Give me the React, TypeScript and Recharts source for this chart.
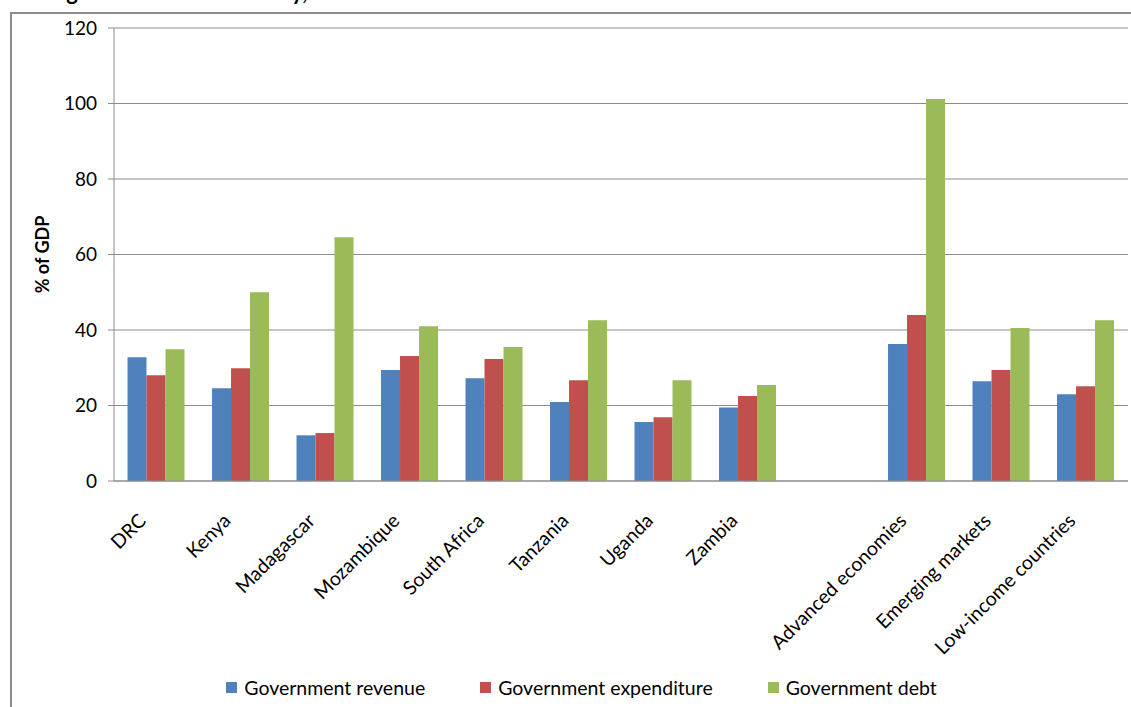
import React from 'react';
import { BarChart, Bar, XAxis, YAxis, CartesianGrid, Legend } from 'recharts';

const categories = ['DRC', 'Kenya', 'Madagascar', 'Mozambique', 'South Africa', 'Tanzania', 'Uganda', 'Zambia', '', 'Advanced economies', 'Emerging markets', 'Low-income countries'];
const revenue = [32.8, 24.6, 12.1, 29.4, 27.2, 20.9, 15.6, 19.5, null, 36.3, 26.4, 23.0];
const expenditure = [28.0, 29.9, 12.7, 33.1, 32.3, 26.7, 16.9, 22.5, null, 44.0, 29.4, 25.1];
const debt = [34.9, 50.0, 64.6, 41.0, 35.5, 42.6, 26.7, 25.4, null, 101.2, 40.5, 42.6];
const yTicks = [0, 20, 40, 60, 80, 100, 120];
const boundaryTicks = [0, 1, 2, 3, 4, 5, 6, 7, 8, 9, 10, 11, 12];
const seriesNames = ['Government revenue', 'Government expenditure', 'Government debt'];
const colors = ['#4F81BD', '#C0504D', '#9BBB59'];
const titleText = 'Budget data of each country, 2012';

const data = categories.map((c, i) => ({
  name: c,
  revenue: revenue[i],
  expenditure: expenditure[i],
  debt: debt[i],
}));

const FONT = 'Lato, "Open Sans", sans-serif';
const GRAY = '#8c8c8c';

const CatTick = (props: any) => {
  const { x, y, payload } = props;
  return (
    <g transform={`translate(${x - 9},${y + 41}) rotate(-45)`}>
      <text x={0} y={0} textAnchor="end" fontSize={19.5} fontFamily={FONT} fill="#000">
        {payload.value}
      </text>
    </g>
  );
};

const LegendContent = () => (
  <div style={{ display: 'flex', justifyContent: 'center', alignItems: 'center', height: 40, paddingLeft: 32, fontFamily: FONT, fontSize: 19.5, color: '#000' }}>
    {seriesNames.map((n, i) => (
      <div key={n} style={{ display: 'flex', alignItems: 'center', marginRight: i < 2 ? 55 : 0 }}>
        <span style={{ display: 'inline-block', width: 11, height: 11, background: colors[i], marginRight: 7 }} />
        <span>{n}</span>
      </div>
    ))}
  </div>
);

export default function App() {
  return (
    <div style={{ position: 'absolute', left: 0, top: 0, width: 1131, height: 707, overflow: 'hidden', background: '#fff' }}>
      <div style={{ position: 'absolute', left: 10, top: 12, width: 1300, height: 900, border: `2px solid ${GRAY}`, boxSizing: 'border-box' }} />
      <svg width={1131} height={40} style={{ position: 'absolute', left: 0, top: 0 }}>
        <text x={27} y={0} fontFamily={FONT} fontWeight="bold" fontSize={22} fill="#000">{titleText}</text>
      </svg>
      <div style={{ position: 'absolute', left: 0, top: 0 }}>
        <BarChart width={1131} height={707} data={data} margin={{ top: 28, right: 3, left: 0, bottom: 0 }} barCategoryGap="16%" barGap={0}>
          <CartesianGrid vertical={false} stroke={GRAY} strokeWidth={1} />
          <XAxis xAxisId="b" type="number" domain={[0, 12]} ticks={boundaryTicks} tick={false} tickLine={{ stroke: GRAY }} tickSize={6} axisLine={false} height={0} allowDataOverflow />
          <XAxis dataKey="name" interval={0} tick={<CatTick />} tickLine={false} tickSize={0} tickMargin={0} axisLine={{ stroke: GRAY }} height={186} />
          <YAxis domain={[0, 120]} ticks={yTicks} width={114} tickSize={6} tickMargin={11} tickLine={{ stroke: GRAY }} axisLine={{ stroke: GRAY }}
            tick={{ fontSize: 19, fontFamily: FONT, fill: '#000' }}
            label={{
              content: (p: any) => {
                const vb = p.viewBox;
                const cx = vb.x + 42;
                const cy = vb.y + vb.height / 2;
                return (
                  <text x={cx} y={cy} transform={`rotate(-90, ${cx}, ${cy})`} textAnchor="middle" dominantBaseline="central" fontFamily={FONT} fontWeight="bold" fontSize={18} fill="#000">% of GDP</text>
                );
              },
            }}
          />
          <Legend verticalAlign="bottom" height={40} content={<LegendContent />} wrapperStyle={{ left: 0, width: 1131 }} />
          <Bar dataKey="revenue" name={seriesNames[0]} fill={colors[0]} isAnimationActive={false} />
          <Bar dataKey="expenditure" name={seriesNames[1]} fill={colors[1]} isAnimationActive={false} />
          <Bar dataKey="debt" name={seriesNames[2]} fill={colors[2]} isAnimationActive={false} />
        </BarChart>
      </div>
    </div>
  );
}
